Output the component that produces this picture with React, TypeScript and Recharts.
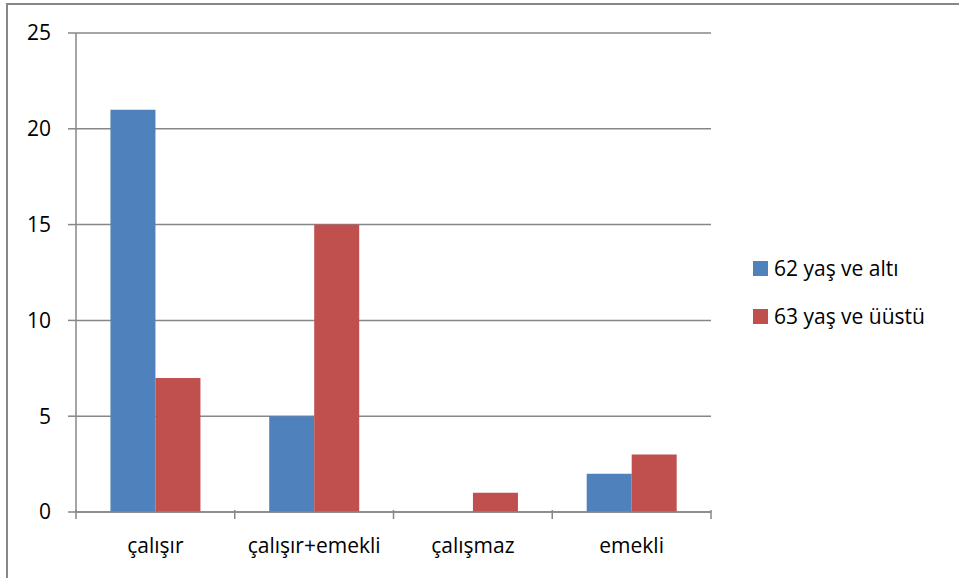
import React from 'react';
import { BarChart, Bar, XAxis, YAxis, CartesianGrid } from 'recharts';

// status groups and counts per age band
const categories = ['çalışır', 'çalışır+emekli', 'çalışmaz', 'emekli'];
const under62 = [21, 5, 0, 2];
const over63 = [7, 15, 1, 3];
const yTicks = [0, 5, 10, 15, 20, 25];

const seriesNames = ['62 yaş ve altı', '63 yaş ve üüstü'];
const colors = ['#4F81BD', '#C0504D'];

const data = categories.map((name, i) => ({ name, a: under62[i], b: over63[i] }));

const W = 959;
const H = 578;
const margin = { top: 33, right: 248, left: 16, bottom: 26 };
const yAxisWidth = 60;
const plotWidth = W - margin.left - margin.right - yAxisWidth;
const band = plotWidth / categories.length;
const gray = '#878787';
const font = '"Open Sans", sans-serif';
const fs = 21;

const XTick = (props: any) => {
  const { x, y, payload, index } = props;
  const left = x - band / 2;
  return (
    <g>
      <line x1={left} y1={y - 10} x2={left} y2={y - 1} stroke={gray} strokeWidth={1.5} />
      {index === categories.length - 1 && (
        <line x1={x + band / 2} y1={y - 10} x2={x + band / 2} y2={y - 1} stroke={gray} strokeWidth={1.5} />
      )}
      <text x={x} y={y + 33} textAnchor="middle" fill="#000" fontSize={fs} fontFamily={font}>
        {payload.value}
      </text>
    </g>
  );
};

const LegendBox = () => (
  <div style={{ position: 'absolute', left: 753, top: 256, fontFamily: font, fontSize: fs, color: '#000' }}>
    {seriesNames.map((n, i) => (
      <div key={n} style={{ display: 'flex', alignItems: 'center', height: 24, marginBottom: i === 0 ? 24 : 0, whiteSpace: 'nowrap' }}>
        <span style={{ display: 'inline-block', width: 15, height: 15, background: colors[i], marginRight: 6 }} />
        <span>{n}</span>
      </div>
    ))}
  </div>
);

export default function App() {
  return (
    <>
      <style>{'body { margin: 0; }'}</style>
      <div style={{ position: 'relative', width: W, height: H, overflow: 'hidden', background: '#fff' }}>
        <BarChart width={W} height={H} data={data} margin={margin} barCategoryGap="21.7%" barGap={0}>
          <CartesianGrid vertical={false} stroke={gray} strokeWidth={1.5} />
          <XAxis
            dataKey="name"
            axisLine={{ stroke: gray, strokeWidth: 1.5 }}
            tickLine={false}
            tick={<XTick />}
            interval={0}
            height={40}
          />
          <YAxis
            domain={[0, 25]}
            ticks={yTicks}
            interval={0}
            width={yAxisWidth}
            axisLine={{ stroke: gray, strokeWidth: 1.5 }}
            tickLine={{ stroke: gray, strokeWidth: 1.5 }}
            tickSize={8}
            tickMargin={17}
            tick={{ fill: '#000', fontSize: fs, fontFamily: font }}
          />
          <Bar dataKey="a" name={seriesNames[0]} fill={colors[0]} isAnimationActive={false} />
          <Bar dataKey="b" name={seriesNames[1]} fill={colors[1]} isAnimationActive={false} />
        </BarChart>
        <LegendBox />
        <div
          style={{
            position: 'absolute',
            left: 6,
            top: 3,
            width: W,
            height: H,
            borderLeft: `2px solid ${gray}`,
            borderTop: `2px solid ${gray}`,
            boxSizing: 'border-box',
            pointerEvents: 'none',
          }}
        />
      </div>
    </>
  );
}
